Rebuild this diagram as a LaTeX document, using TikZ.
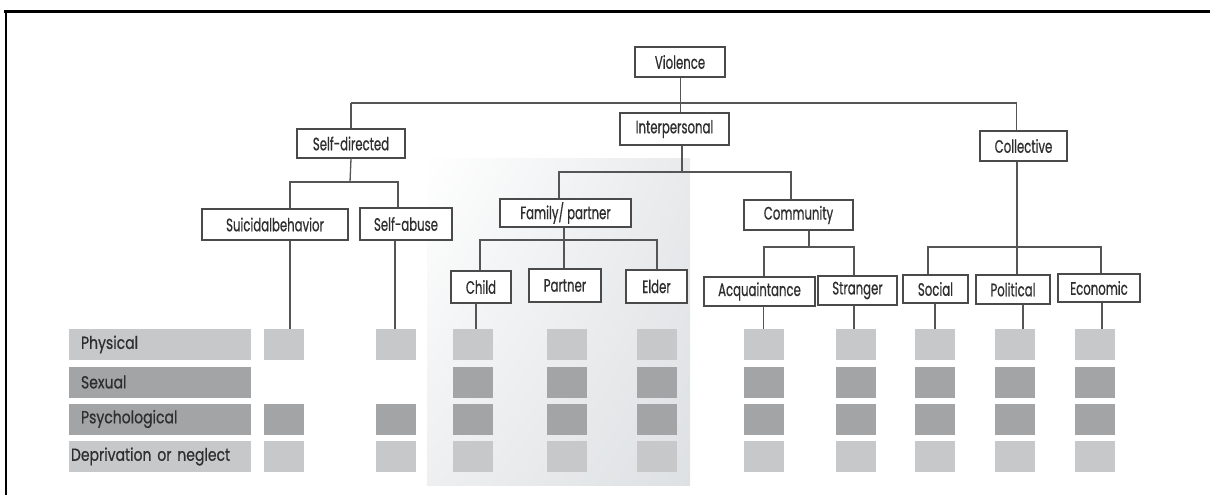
\documentclass[tikz,border=0pt]{standalone}
\usepackage{fontspec}
\usetikzlibrary{shadings}
\newfontfamily\gothic[FakeStretch=0.65,FakeBold=0.6]{Poppins}
\newfontfamily\gothicbar[FakeStretch=0.8,FakeBold=0.6]{Poppins}
\definecolor{boxline}{HTML}{4A4A4A}
\definecolor{connc}{HTML}{555555}
\definecolor{lightsq}{HTML}{C6C8CA}
\definecolor{darksq}{HTML}{A2A4A6}
\definecolor{panelA}{HTML}{E8EAEC}
\definecolor{panelB}{HTML}{DEE1E3}
\definecolor{panelC}{HTML}{EDEFF0}
\definecolor{txt}{HTML}{2E2E2E}
\tikzset{
  box/.style={draw=boxline, line width=1.4pt, fill=white, inner sep=0pt,
    font=\gothic\fontsize{18}{18}\selectfont, text=txt},
  conn/.style={draw=connc, line width=1.3pt},
  sq/.style={inner sep=0pt, minimum width=40pt, minimum height=31pt},
  bar/.style={inner sep=0pt, minimum height=31pt, align=left,
    font=\gothicbar\fontsize{17.5}{17.5}\selectfont, text=txt},
}
\newcommand\bx[6]{\node[box,minimum width={#4-#2},minimum height={#5-#3}] (#1) at ({(#2+#4)/2},{(#3+#5)/2}) {#6};}
\begin{document}
\begin{tikzpicture}[x=1pt,y=-1pt]
\useasboundingbox (0,0) rectangle (1210,495);
% frame
\draw[line width=3pt,black] (4,12) -- (1210,12);
\draw[line width=2.2pt,black] (6,12) -- (6,495);
% shaded panel
\shade[upper left=white, upper right=panelA, lower left=panelC, lower right=panelB] (427,158) rectangle (690,485);
% boxes
\bx{viol}{635}{47}{725}{77}{Violence}
\bx{interp}{620}{113}{729}{145}{Interpersonal}
\bx{selfdir}{297}{129}{405}{158}{Self-directed}
\bx{coll}{980}{131}{1067}{161}{Collective}
\bx{suic}{202}{209}{348}{240}{Suicidalbehavior}
\bx{selfab}{360}{208}{452}{240}{Self-abuse}
\bx{famp}{500}{199}{631}{227}{Family/ partner}
\bx{comm}{744}{200}{853}{230}{Community}
\bx{child}{451}{271}{511}{303}{Child}
\bx{partner}{529}{269}{601}{302}{Partner}
\bx{elder}{626}{270}{687}{303}{Elder}
\bx{acq}{704}{277}{815}{306}{Acquaintance}
\bx{strang}{818}{276}{897}{305}{Stranger}
\bx{social}{903}{275}{968}{303}{Social}
\bx{polit}{976}{275}{1050}{304}{Political}
\bx{econ}{1058}{274}{1140}{302}{Economic}
% bus coordinates
\coordinate (b1) at (680,103);
\coordinate (b2) at (682,172);
\coordinate (b3) at (350,182);
\coordinate (b4) at (564,240);
\coordinate (b5) at (809,247);
\coordinate (b6) at (1017,247);
% connectors level 1
\draw[conn] ([xshift=0.5pt]viol.south) -- ([xshift=0.5pt]viol.south |- interp.north);
\draw[conn] (b1 -| selfdir.north) |- (b1) -| ([xshift=-7pt]coll.north);
\draw[conn] (b1 -| selfdir.north) -- (selfdir.north);
% interpersonal
\draw[conn] ([xshift=7.5pt]interp.south) -- ([xshift=7.5pt]interp.south |- b2);
\draw[conn] ([xshift=-6.5pt]famp.north) |- (b2) -| ([xshift=-7.5pt]comm.north);
% self-directed
\draw[conn] (selfdir.south) -- (b3);
\draw[conn] ([xshift=15pt]suic.north) |- (b3) -| ([xshift=-8pt]selfab.north);
% family
\draw[conn] ([xshift=-1.5pt]famp.south) -- ([xshift=-1.5pt]famp.south |- partner.north);
\draw[conn] ([xshift=-1pt]child.north) |- (b4) -| ([xshift=0.5pt]elder.north);
% community
\draw[conn] ([xshift=10.5pt]comm.south) -- (b5);
\draw[conn] ([xshift=4.5pt]acq.north) |- (b5) -| ([xshift=-3.5pt]strang.north);
% collective
\draw[conn] ([xshift=-6.5pt]coll.south) -- ([xshift=-6.5pt]coll.south |- polit.north);
\draw[conn] ([xshift=-7.5pt]social.north) |- (b6) -| ([xshift=2pt]econ.north);
% label bars
\node[bar, fill=lightsq, minimum width=182pt, text width=166pt, inner xsep=8pt] (lphys) at (160,344.5) {\hspace*{4pt}Physical};
\node[bar, fill=darksq, minimum width=182pt, text width=166pt, inner xsep=8pt] (lsex) at (160,382) {\hspace*{4pt}Sexual};
\node[bar, fill=darksq, minimum width=182pt, text width=166pt, inner xsep=8pt] (lpsy) at (160,419) {\hspace*{4pt}Psychological};
\node[bar, fill=lightsq, minimum width=182pt, text width=178pt, inner xsep=2pt] (ldep) at (160,456.5) {Deprivation or neglect};
% squares
\foreach \n/\cx in {suic/284,selfab/395.5}{
  \node[sq, fill=lightsq] (\n-1) at (\cx,344.5) {};
  \node[sq, fill=darksq] (\n-3) at (\cx,419) {};
  \node[sq, fill=lightsq] (\n-4) at (\cx,456.5) {};
}
\foreach \n/\cx in {child/473,partner/566.5,elder/657,acq/763.5,strang/856,social/935,polit/1015,econ/1094.5}{
  \node[sq, fill=lightsq] (\n-1) at (\cx,344.5) {};
  \node[sq, fill=darksq] (\n-2) at (\cx,382) {};
  \node[sq, fill=darksq] (\n-3) at (\cx,419) {};
  \node[sq, fill=lightsq] (\n-4) at (\cx,456.5) {};
}
% drops to squares
\draw[conn] ([xshift=15pt]suic.south) -- ([xshift=15pt]suic.south |- suic-1.north);
\draw[conn] ([xshift=-11pt]selfab.south) -- ([xshift=-11pt]selfab.south |- selfab-1.north);
\draw[conn] ([xshift=3pt]child.south -| child-1.north) -- ([xshift=3pt]child-1.north);
\draw[conn] (acq.south -| acq-1.north) -- (acq-1.north);
\draw[conn] ([xshift=-3.5pt]strang.south) -- ([xshift=-3.5pt]strang.south |- strang-1.north);
\draw[conn] (social.south -| social-1.north) -- (social-1.north);
\draw[conn] ([xshift=8pt]polit.south -| polit-1.north) -- ([xshift=8pt]polit-1.north);
\draw[conn] ([xshift=7.5pt]econ.south -| econ-1.north) -- ([xshift=7.5pt]econ-1.north);
\end{tikzpicture}
\end{document}
